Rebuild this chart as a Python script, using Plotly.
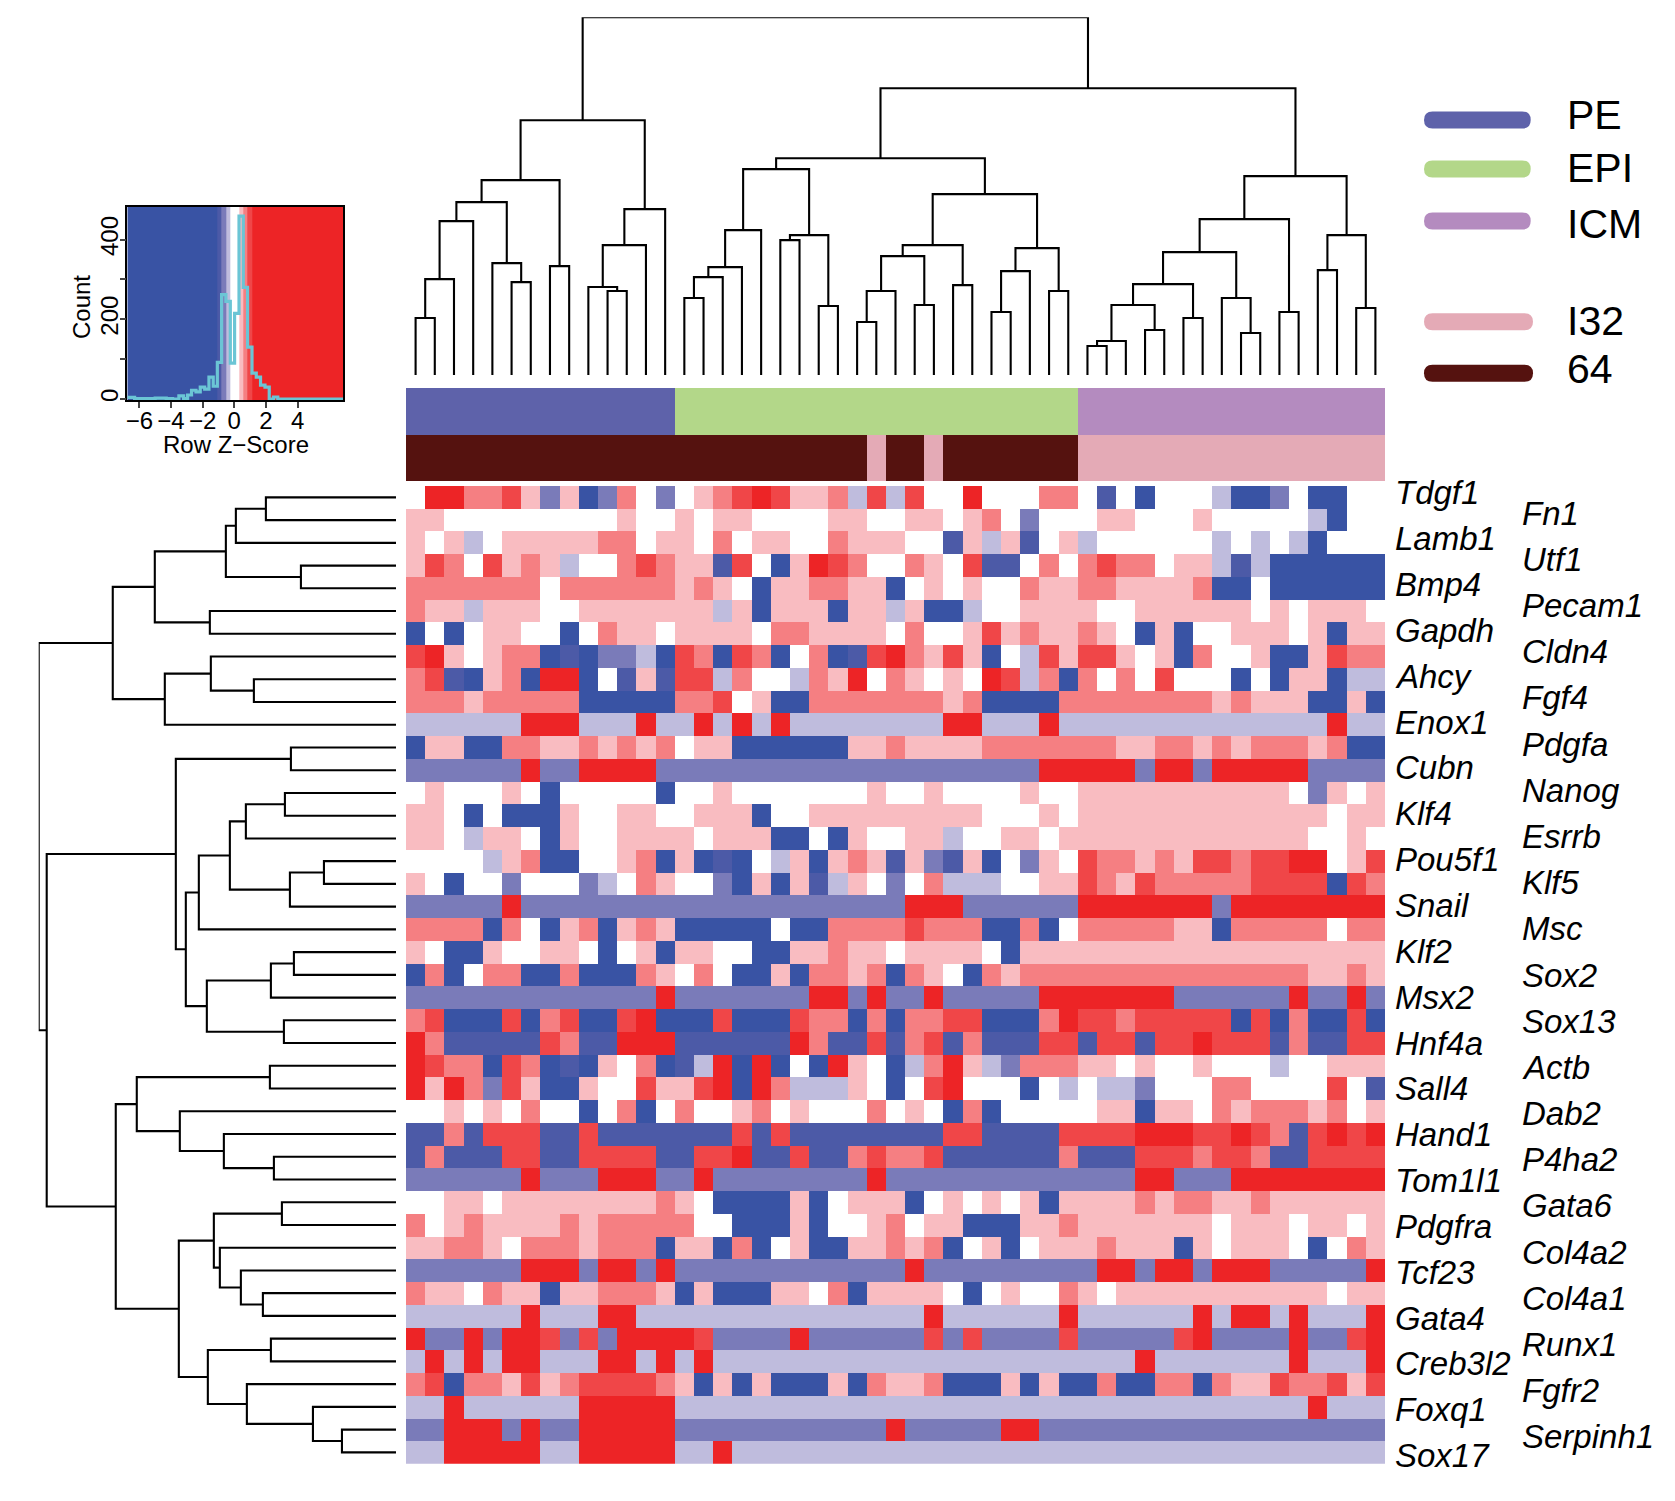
import plotly.graph_objects as go

W, H = 1675, 1501

# colour levels of the heat map (deep blue ... deep red)
level_colors = ["#3953A4", "#4C5AA7", "#7A7BB9", "#BFBCDD", "#FFFFFF",
                "#F9BCC1", "#F57F82", "#F04648", "#ED2426"]

genes = ["Tdgf1", "Fn1", "Lamb1", "Utf1", "Bmp4", "Pecam1", "Gapdh", "Cldn4", "Ahcy", "Fgf4",
         "Enox1", "Pdgfa", "Cubn", "Nanog", "Klf4", "Esrrb", "Pou5f1", "Klf5", "Snail", "Msc",
         "Klf2", "Sox2", "Msx2", "Sox13", "Hnf4a", "Actb", "Sall4", "Dab2", "Hand1", "P4ha2",
         "Tom1l1", "Gata6", "Pdgfra", "Col4a2", "Tcf23", "Col4a1", "Gata4", "Runx1", "Creb3l2",
         "Fgfr2", "Foxq1", "Serpinh1", "Sox17"]

# per gene, per cell: binned Row Z-Score level (index into level_colors)
heat_rows = [
    "4886675250 2642456787 5563737448 4446641404 44300240044",
    "5544444444 4544545544 4455445545 6424445544 45444443044",
    "5453455555 6645546455 4465554415 3514534444 44343430444",
    "5764756534 4676551740 5876446547 1146467664 55313000000",
    "6666666466 6666565405 5665504545 4465566555 56004000000",
    "6553555445 5555553505 5505535003 4455554455 55554545554",
    "0404554404 6554555546 6555546445 7565565405 04455545055",
    "7854566010 2230760760 4601786575 0437577545 06445005766",
    "6710560880 4151773644 3658465454 8736064647 44404055033",
    "6665666660 0000667450 0666666656 0000666666 66565550050",
    "3333338883 3383383838 3333333388 3338333333 33333333833",
    "0550066556 5656455000 0005565555 6666666556 65656665600",
    "2222228228 8882222222 2222222222 2228888828 82888882222",
    "4544454044 4440445444 4444544544 4454455555 55555542545",
    "5540400054 4554455504 4555555555 4445455555 55555555455",
    "5543554054 4555545550 0405445534 4554555555 55555554454",
    "4444356004 4560501043 5056515215 0425476656 57767788457",
    "5404424442 3465442050 5135424633 3445576576 66667777076",
    "2222282222 2222222222 2222228882 2222288888 88288888888",
    "6666064056 0565000004 0066667666 0060466666 55066666466",
    "5400544554 0450554400 5565545555 4055555555 55555555555",
    "0604660060 0065464005 0665606540 6566666666 66666665565",
    "2222222222 2228222222 2882822822 2228888888 22222282282",
    "6700070670 0780007000 7660606677 0006877677 77707060070",
    "8611111761 1888111111 8611716716 1117717717 78777161177",
    "8766076010 5460138080 4085403685 3266655454 45444344555",
    "8586275005 4475578086 3335404784 4404343324 44664444741",
    "4454546440 4604644564 5444645406 0444445505 54656665645",
    "1161777117 1111111717 1111111177 1111777788 87787617878",
    "1611177117 7771177811 7116766711 1111611177 76776117777",
    "2222228222 8882282222 2222822222 2222222288 22288888888",
    "4455455555 5556540000 5045550454 5450555565 66556555555",
    "6456555565 6666644000 5044564550 0055655555 55455545545",
    "5566546665 6660550604 5005565604 5045556555 05455540465",
    "2222228882 8828222222 2222228222 2222228828 82888222228",
    "6554655055 6665050005 5460555540 4544654555 55555555455",
    "3333338333 8833333333 3333333833 3333833333 38388383338",
    "8228288727 2888872222 8222222727 2222722222 78222282278",
    "3838388333 8838383333 3333333333 3333333383 33333383338",
    "6706657567 7776505050 0050655600 0505006006 60655766757",
    "3383333338 8888333333 3333333333 3333333333 33333338333",
    "2288828228 8888222222 2222282222 2882222222 22222222222",
    "3388888338 8888338333 3333333333 3333333333 33333333333",
]

# column annotations (counts per class, in column order)
class_names = ["PE", "EPI", "ICM"]
class_counts = [14, 21, 16]
class_colors = ["#5E62AA", "#B3D789", "#B48BBF"]
stage_names = ["I32", "64"]
stage_colors = ["#E4AAB6", "#55120F"]
stage_pink_cols = [24, 27]
first_icm_col = 35

# hierarchical trees: (height, left, right); ints are leaves
top_tree = (358,
    (255,
        (195,
            (173,
                (154, (96, (57, 0, 1), 2), 3),
                (112, 4, (93, 5, 6))),
            (109, 7, 8)),
        (166, (130, (88, 9, (84, 10, 11)), 12), 13)),
    (287,
        (217,
            (206,
                (145, (108, (98, (77, 14, 15), 16), 17), 18),
                (140, (135, 19, 20), (69, 21, 22))),
            (181,
                (130,
                    (119, (84, (53, 23, 24), 25), (70, 26, 27)),
                    (90, 28, 29)),
                (127, (104, (63, 30, 31), 32), (84, 33, 34)))),
        (199,
            (156,
                (123,
                    (91,
                        (70, (34, (29, 35, 36), 37), (45, 38, 39)),
                        (57, 40, 41)),
                    (77, 42, (42, 43, 44))),
                (63, 45, 46)),
            (140, (105, 47, 48), (67, 49, 50)))))

left_tree = (357,
    (283,
        (241,
            (170, (160, (130, 0, 1), 2), (95, 3, 4)),
            (186, 5, 6)),
        (231, (185, 7, (142, 8, 9)), 10)),
    (349,
        (220,
            (105, 11, 12),
            (210,
                (197,
                    (166, (150, (111, 13, 14), 15), (106, (72, 16, 17), 18)),
                    19),
                (189, (125, (102, 20, 21), 22), (112, 23, 24)))),
        (280,
            (259,
                (126, 25, 26),
                (216, 27, (172, 28, (122, 29, 30)))),
            (217,
                (182,
                    (114, 31, 32),
                    (176, 33, (155, 34, (133, 35, 36)))),
                (188,
                    (125, 37, 38),
                    (149, 39, (83, 40, (54, 41, 42))))))))

# colour key histogram
key_edges = [-6.76, -1.07, -0.8, -0.53, -0.25, 0.3, 0.57, 0.84, 1.12, 6.89]
key_levels = [0, 1, 2, 3, 4, 5, 6, 7, 8]
hist_edges = [-6.76, -6.3, -5.0, -4.3, -3.9, -3.5, -3.2, -2.95, -2.7, -2.42, -2.15, -1.87, -1.6,
              -1.33, -1.07, -0.8, -0.53, -0.25, 0.02, 0.3, 0.57, 0.84, 1.12, 1.39, 1.66, 1.94,
              2.21, 2.48, 2.75, 6.89]
hist_counts = [4, 1, 2, 1, 0, 8, 1, 10, 22, 18, 30, 25, 55, 32, 92, 262, 245, 90, 215, 459, 280,
               130, 65, 55, 35, 30, 0, 5, 0]


def fx(x):
    return x / W


def fy(y):
    return 1 - y / H


z_rows = [[int(c) for c in r.replace(" ", "")] for r in heat_rows]
assert all(len(r) == 51 for r in z_rows) and len(z_rows) == 43

n = len(z_rows[0])
scale = [[i / 8, c] for i, c in enumerate(level_colors)]


def tree_lines(node):
    pos_list, h_list = [], []

    def walk(nd):
        if isinstance(nd, int):
            return nd, 0
        h, a, b = nd
        pa, ha = walk(a)
        pb, hb = walk(b)
        pos_list.extend([pa, pa, pb, pb, None])
        h_list.extend([ha, h, h, hb, None])
        return (pa + pb) / 2, h

    walk(node)
    return pos_list, h_list


fig = go.Figure()

# main heat map
fig.add_trace(go.Heatmap(z=z_rows, colorscale=scale, zmin=0, zmax=8, showscale=False,
                         xaxis="x", yaxis="y", hoverinfo="skip"))

# annotation strips
class_idx = [i for i, c in enumerate(class_counts) for _ in range(c)]
stage_idx = [0 if (j >= first_icm_col or j in stage_pink_cols) else 1 for j in range(n)]
strip_colors = class_colors + stage_colors
strip_scale = [[i / 4, c] for i, c in enumerate(strip_colors)]
fig.add_trace(go.Heatmap(z=[class_idx, [s + 3 for s in stage_idx]], colorscale=strip_scale,
                         zmin=0, zmax=4, showscale=False, xaxis="x2", yaxis="y2",
                         hoverinfo="skip"))

# dendrograms
tp, th = tree_lines(top_tree)
fig.add_trace(go.Scatter(x=tp, y=th, mode="lines", line=dict(color="black", width=2.1),
                         xaxis="x3", yaxis="y3", hoverinfo="skip"))
lp, lh = tree_lines(left_tree)
fig.add_trace(go.Scatter(x=lh, y=lp, mode="lines", line=dict(color="black", width=2.1),
                         xaxis="x4", yaxis="y4", hoverinfo="skip"))

# colour key
fig.add_trace(go.Heatmap(z=[key_levels], x=key_edges, y=[-2.5, 483], colorscale=scale, zmin=0,
                         zmax=8, showscale=False, xaxis="x5", yaxis="y5", hoverinfo="skip"))
fig.add_trace(go.Scatter(x=hist_edges, y=hist_counts + [hist_counts[-1]], mode="lines",
                         line=dict(color="#6BC5D5", width=3.2, shape="hv"),
                         xaxis="x5", yaxis="y5", hoverinfo="skip"))

hidden = dict(visible=False, showgrid=False, zeroline=False)
HX0, HX1, HY0, HY1 = 406, 1385, 486, 1463.7
key_font = dict(family="Liberation Sans", size=24, color="black")

layout = dict(
    width=W, height=H, margin=dict(l=0, r=0, t=0, b=0, autoexpand=False),
    paper_bgcolor="white", plot_bgcolor="white", showlegend=False,
    xaxis=dict(hidden, domain=[fx(HX0), fx(HX1)], range=[-0.5, n - 0.5], anchor="y"),
    yaxis=dict(hidden, domain=[fy(HY1), fy(HY0)], range=[42.5, -0.5], anchor="x"),
    xaxis2=dict(hidden, domain=[fx(HX0), fx(HX1)], range=[-0.5, n - 0.5], anchor="y2"),
    yaxis2=dict(hidden, domain=[fy(481), fy(388)], range=[1.5, -0.5], anchor="x2"),
    xaxis3=dict(hidden, domain=[fx(HX0), fx(HX1)], range=[-0.5, n - 0.5], anchor="y3"),
    yaxis3=dict(hidden, domain=[fy(375), fy(17.3)], range=[0, 358], anchor="x3"),
    xaxis4=dict(hidden, domain=[fx(38.7), fx(396)], range=[357, 0], anchor="y4"),
    yaxis4=dict(hidden, domain=[fy(HY1), fy(HY0)], range=[42.5, -0.5], anchor="x4"),
    xaxis5=dict(domain=[fx(127.3), fx(343.3)], range=[-6.76, 6.89], showgrid=False, zeroline=False,
                anchor="y5", showline=True, mirror=True, linecolor="black", linewidth=1.5,
                ticks="outside", ticklen=6, tickwidth=1.5, tickvals=[-6, -4, -2, 0, 2, 4],
                tickangle=0, tickfont=key_font, automargin=False, ticklabelstandoff=-8),
    yaxis5=dict(domain=[fy(400), fy(206.5)], range=[-2.5, 483], showgrid=False, zeroline=False,
                anchor="x5", showline=True, mirror=True, linecolor="black", linewidth=1.5,
                ticks="outside", ticklen=6, tickwidth=1.5, tickvals=[0, 100, 200, 300, 400],
                ticktext=["0", "", "200", "", "400"], tickangle=-90, tickfont=key_font,
                automargin=False, ticklabelstandoff=-8),
)

annotations = [
    dict(x=fx(235.5), y=fy(445), xref="paper", yref="paper", text="Row Z\u2212Score",
         showarrow=False, xanchor="center", yanchor="middle", font=key_font),
    dict(x=fx(82), y=fy(307), xref="paper", yref="paper", text="Count", textangle=-90,
         showarrow=False, xanchor="center", yanchor="middle", font=key_font),
]
# gene labels in two alternating columns
for k, g in enumerate(genes[0::2]):
    annotations.append(dict(x=fx(1393), y=fy(492.8 + 45.85 * k), xref="paper", yref="paper",
                            text=f"<i>{g}</i>", showarrow=False, xanchor="left", yanchor="middle",
                            font=dict(family="Liberation Sans", size=33, color="black")))
for k, g in enumerate(genes[1::2]):
    annotations.append(dict(x=fx(1520), y=fy(513.3 + 46.17 * k), xref="paper", yref="paper",
                            text=f"<i>{g}</i>", showarrow=False, xanchor="left", yanchor="middle",
                            font=dict(family="Liberation Sans", size=33, color="black")))

# legend bars
shapes = []
legend_names = class_names + stage_names
legend_colors = class_colors + stage_colors
bar_y = [120, 169, 221, 321.7, 373.3]
bar_right = [1530.7, 1530.7, 1530.7, 1533, 1533]
label_y = [115, 168, 224, 320.7, 368.5]
for name, col, by, br, ly in zip(legend_names, legend_colors, bar_y, bar_right, label_y):
    x0, x1, t, b, r = 1424, br, by - 8.5, by + 8.5, 8.5
    path = (f"M {fx(x0 + r)} {fy(t)} L {fx(x1 - r)} {fy(t)} Q {fx(x1)} {fy(t)} {fx(x1)} {fy(by)} "
            f"Q {fx(x1)} {fy(b)} {fx(x1 - r)} {fy(b)} L {fx(x0 + r)} {fy(b)} "
            f"Q {fx(x0)} {fy(b)} {fx(x0)} {fy(by)} Q {fx(x0)} {fy(t)} {fx(x0 + r)} {fy(t)} Z")
    shapes.append(dict(type="path", xref="paper", yref="paper", path=path, fillcolor=col,
                       line=dict(width=0)))
    annotations.append(dict(x=fx(1565), y=fy(ly), xref="paper", yref="paper", text=name,
                            showarrow=False, xanchor="left", yanchor="middle",
                            font=dict(family="Liberation Sans", size=41, color="black")))

fig.update_layout(**layout, annotations=annotations, shapes=shapes)
fig.write_html("out.html", config={"displayModeBar": False},
               post_script="document.body.style.margin='0';document.documentElement.style.overflow='hidden';")
